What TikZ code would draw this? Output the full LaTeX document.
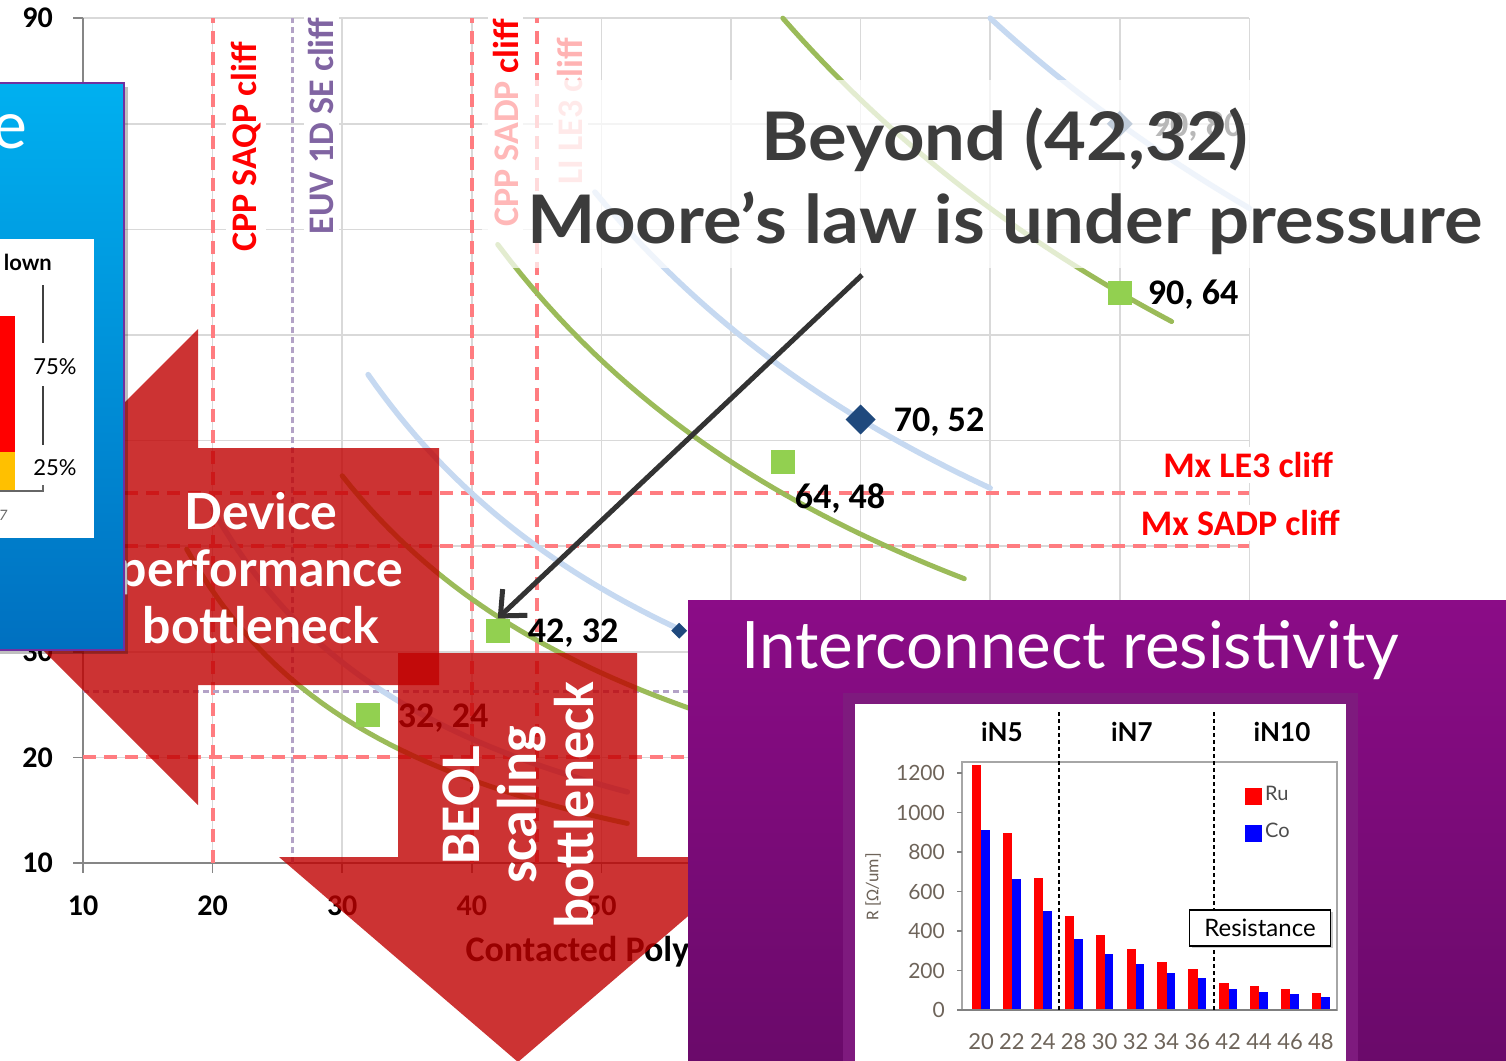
\documentclass[tikz,border=0pt]{standalone}
\usepackage{fontspec}
\setmainfont{Carlito}
\newfontfamily\gill{Lato}
\usetikzlibrary{arrows.meta,positioning,shapes.geometric,shadows}
\definecolor{gridgray}{RGB}{217,217,217}
\definecolor{axisgray}{RGB}{134,134,134}
\definecolor{cliffred}{RGB}{255,124,128}
\definecolor{cliffpurple}{RGB}{179,162,199}
\definecolor{txtpurple}{RGB}{128,100,162}
\definecolor{palered}{RGB}{255,179,179}
\definecolor{isogreen}{RGB}{155,187,89}
\definecolor{isoblue}{RGB}{198,217,241}
\definecolor{ptgreen}{RGB}{146,208,80}
\definecolor{ptnavy}{RGB}{31,73,125}
\definecolor{arrowred}{RGB}{192,0,0}
\definecolor{titlegray}{RGB}{60,60,60}
\definecolor{arrowgray}{RGB}{51,51,51}
\definecolor{boxtop}{RGB}{0,176,240}
\definecolor{boxbot}{RGB}{0,112,192}
\definecolor{boxline}{RGB}{112,48,160}
\definecolor{purptop}{RGB}{139,12,135}
\definecolor{purpbot}{RGB}{106,10,106}
\definecolor{framepurple}{RGB}{126,26,126}
\definecolor{ticktxt}{RGB}{110,100,90}
\definecolor{barred}{RGB}{255,0,0}
\definecolor{barblue}{RGB}{0,0,255}
\definecolor{barorange}{RGB}{255,192,0}
\tikzset{
	gridline/.style={draw=gridgray, line width=1.5pt},
	axisline/.style={draw=axisgray, line width=1.5pt},
	reddash/.style={draw=cliffred, line width=4pt, dash pattern=on 13pt off 8pt},
	purpdash/.style={draw=cliffpurple, line width=3pt, dash pattern=on 6pt off 4pt},
	greenline/.style={draw=isogreen, line width=5pt, line cap=round},
	blueline/.style={draw=isoblue, line width=5.5pt, line cap=round},
	greensq/.style={shape=rectangle, fill=ptgreen, minimum size=24pt, inner sep=0pt},
	navydia/.style={shape=diamond, fill=ptnavy, minimum size=#1, inner sep=0pt, aspect=1},
	ptlabel/.style={font=\bfseries\fontsize{36}{36}\selectfont, inner sep=0pt},
	axlabel/.style={font=\bfseries\fontsize{30}{30}\selectfont, inner sep=0pt},
	cliffup/.style={rotate=90, fill=white, inner sep=5pt, font=\bfseries\fontsize{36}{36}\selectfont},
	cliffside/.style={fill=white, inner xsep=10pt, inner ysep=5pt, text=red, font=\bfseries\fontsize{36}{36}\selectfont},
	titletxt/.style={text=titlegray, inner sep=0pt, font=\gill\bfseries\fontsize{67}{67}\selectfont},
	arrowtxt/.style={text=white, align=center, inner sep=0pt},
	rtick/.style={text=ticktxt, inner sep=0pt, font=\gill\fontsize{21}{21}\selectfont},
	gen/.style={inner sep=0pt, font=\gill\bfseries\fontsize{26}{26}\selectfont},
	sepdash/.style={draw=black, line width=1.3pt, dash pattern=on 4pt off 3pt},
	mooreline/.style={draw=arrowgray, line width=5pt, -{Straight Barb[length=20pt,width=36pt]}}
}
\begin{document}
\begin{tikzpicture}[x=1pt,y=-1pt]
	\useasboundingbox (0,0) rectangle (1506,1060);
	\clip (0,0) rectangle (1506,1060);
	\fill[white] (0,0) rectangle (1506,1060);

	\begin{scope}[shift={(-46.6,968.6)},x=12.96pt,y=10.56pt]
		\foreach \gx in {20,30,...,100}
			\draw[gridline] (\gx,10) -- (\gx,90);
		\foreach \gy in {20,30,...,90}
			\draw[gridline] (10,\gy) -- (100,\gy);
		\draw[axisline] (10,90) -- (10,10) -- (58,10);
		\foreach \t in {10,20,...,90}
			\draw[axisline] (10,\t) -- (9.23,\t);
		\foreach \t in {10,20,...,50}
			\draw[axisline] (\t,10) -- (\t,9.05);

		\node (y90)[axlabel] at (6.5,90) {90};
		\node (y30)[axlabel] at (6.5,30) {30};
		\node (y20)[axlabel] at (6.5,20) {20};
		\node (y10)[axlabel] at (6.5,10) {10};
		\foreach \t in {10,20,...,50}
			\node (x\t)[axlabel] at (\t,5.93) {\t};
		\node (xt)[axlabel, anchor=west, font=\bfseries\fontsize{36}{36}\selectfont] at (39.5,1.57) {Contacted Poly};

		\draw[reddash] (20,10) -- (20,90);
		\draw[purpdash] (26.2,10) -- (26.2,90);
		\draw[reddash] (40,10) -- (40,90);
		\draw[reddash] (45,10) -- (45,90);
		\draw[reddash] (10,45) -- (100,45);
		\draw[reddash] (10,40) -- (100,40);
		\draw[purpdash] (10,26.2) -- (58,26.2);
		\draw[reddash] (10,20) -- (58,20);

		\draw[blueline] plot[domain=80:100, samples=30] (\x,{7200/\x});
		\draw[blueline] plot[domain=49.5:80, samples=40] (\x,{3640/\x});
		\draw[blueline] plot[domain=32:56, samples=40] (\x,{1800/\x});
		\draw[blueline] plot[domain=20:52, samples=40] (\x,{870/\x});
		\draw[greenline] plot[domain=64:94, samples=40] (\x,{5760/\x});
		\draw[greenline] plot[domain=42:78, samples=40] (\x,{2880/\x});
		\draw[greenline] plot[domain=30:58, samples=40] (\x,{1400/\x});
		\draw[greenline] plot[domain=18:52, samples=40] (\x,{715/\x});

		\node (p9080)[navydia=26pt] at (90,80) {};
		\node (p7052)[navydia=30pt] at (70,52) {};
		\node (p5632)[navydia=16pt] at (56,32) {};
		\node (p9064)[greensq] at (90,64) {};
		\node (p6448)[greensq] at (64,48) {};
		\node (p4232)[greensq] at (42,32) {};
		\node (p3224)[greensq] at (32,24) {};

		\node (l9080)[ptlabel] at (95.96,79.7) {90, 80};
		\node (l9064)[ptlabel] at (95.65,63.8) {90, 64};
		\node (l7052)[ptlabel] at (76.05,51.76) {70, 52};
		\node (l6448)[ptlabel] at (68.41,44.56) {64, 48};
		\node (l4232)[ptlabel] at (47.81,31.78) {42, 32};
		\node (l3224)[ptlabel] at (37.78,23.73) {32, 24};

		\node (c1)[cliffup, text=red] at (22.6,77.8) {CPP SAQP cliff};
		\node (c2)[cliffup, text=txtpurple] at (28.4,79.8) {EUV 1D SE cliff};
		\node (c3)[cliffup, text=red] at (42.6,80.1) {CPP SADP cliff};
		\node (c4)[cliffup, text=palered] at (47.6,81.2) {LI LE3 cliff};
		\node (c5)[cliffside] at (99.9,47.7) {Mx LE3 cliff};
		\node (c6)[cliffside] at (99.3,42.2) {Mx SADP cliff};
	\end{scope}

	\fill[white, opacity=0.72] (482,80) rectangle (1252,268);
	\node (t1)[titletxt, anchor=base] at (1005,160) {\scalebox{1.08}[1]{Beyond (42,32)}};
	\node (t2)[titletxt, anchor=base] at (1005,243) {\scalebox{1.08}[1]{Moore’s law is under pressure}};

	\fill[arrowred, opacity=0.8] (439,448) -- (198,448) -- (198,329) -- (-40,567) -- (198,805) -- (198,685) -- (439,685) -- cycle;
	\fill[arrowred, opacity=0.8] (398,653) -- (637,653) -- (637,857) -- (757,857) -- (518,1062) -- (279,857) -- (398,857) -- cycle;
	\node (d1)[arrowtxt, font=\gill\bfseries\fontsize{50}{57}\selectfont] at (261,568) {Device\\performance\\bottleneck};
	\node (b1)[arrowtxt, rotate=90, font=\bfseries\fontsize{56}{57}\selectfont] at (518,805) {BEOL\\scaling\\bottleneck};

	\fill[black, opacity=0.25] (-5,87) rectangle (128,654);
	\shade[top color=boxtop, bottom color=boxbot] (-5,83) rectangle (124,650);
	\draw[draw=boxline, line width=1.5pt] (-5,83) rectangle (124,650);
	\node (e1)[anchor=base east, text=white, inner sep=0pt, font=\gill\fontsize{66}{66}\selectfont] at (28,148) {e};
	\fill[white] (-5,239) rectangle (94,538);
	\node (d2)[anchor=base east, inner sep=0pt, font=\gill\bfseries\fontsize{22}{22}\selectfont] at (52,270) {lown};
	\fill[barred] (-5,316) rectangle (15,452);
	\fill[barorange] (-5,452) rectangle (15,491);
	\draw[draw=black!75, line width=1.5pt] (43,285) -- (43,343) (43,386) -- (43,445);
	\draw[draw=black!60, line width=1.5pt] (-5,491) -- (43,491) -- (43,485);
	\node (q75)[inner sep=0pt, font=\gill\fontsize{22}{22}\selectfont] at (55,367) {75\%};
	\node (q25)[inner sep=0pt, font=\gill\fontsize{22}{22}\selectfont] at (55,468) {25\%};
	\node (q7)[inner sep=0pt, text=black!60, font=\itshape\fontsize{16}{16}\selectfont] at (3,515) {7};

	\shade[top color=purptop, bottom color=purpbot] (688,600) rectangle (1510,1065);
	\node (ir)[anchor=base west, text=white, inner sep=0pt, font=\gill\fontsize{65.5}{66}\selectfont] at (741,668) {Interconnect resistivity};
	\fill[framepurple] (843,693) rectangle (1358,1065);
	\fill[white] (855,704) rectangle (1346,1065);

	\begin{scope}[shift={(0,1010)},y=0.1975pt]
		\foreach \ru/\co [count=\i from 0] in {1240/914,897/664,669/502,475/361,378/283,307/231,243/189,206/160,135/105,121/89,105/81,88/66} {
			\fill[barred] ({972+30.9*\i},0) rectangle ++(9.3,\ru);
			\fill[barblue] ({981.3+30.9*\i},0) rectangle ++(8.5,\co);
		}
	\end{scope}
	\draw[draw=black!35, line width=1.5pt] (962,762) rectangle (1337,1010);
	\draw[draw=black!50, line width=1.5pt] (957,1010) -- (1337,1010);
	\foreach \v in {0,200,...,1200} {
		\draw[draw=black!50, line width=1.2pt] (957,{1010-0.1975*\v}) -- (962,{1010-0.1975*\v});
		\node (r\v)[rtick, anchor=east] at (945,{1010-0.1975*\v}) {\v};
	}
	\foreach \c [count=\i from 0] in {20,22,24,28,30,32,34,36,42,44,46,48}
		\node (k\i)[rtick, font=\gill\fontsize{22}{22}\selectfont] at ({981+30.9*\i},1042) {\c};
	\node (rl)[rotate=90, text=ticktxt, inner sep=0pt, font=\fontsize{18}{18}\selectfont] at (873,887) {R [Ω/um]};
	\draw[sepdash] (1059,712) -- (1059,1010);
	\draw[sepdash] (1214,712) -- (1214,1010);
	\node (g5)[gen] at (1002,732) {iN5};
	\node (g7)[gen] at (1132,732) {iN7};
	\node (g10)[gen] at (1282,732) {iN10};
	\fill[barred] (1245,788) rectangle (1262,805);
	\fill[barblue] (1245,825) rectangle (1262,842);
	\node (ru)[anchor=west, inner sep=0pt, text=black!70, font=\gill\fontsize{20}{20}\selectfont] at (1265,793) {Ru};
	\node (co)[anchor=west, inner sep=0pt, text=black!70, font=\gill\fontsize{20}{20}\selectfont] at (1265,830) {Co};
	\node (res)[draw=black, line width=1.5pt, fill=white, drop shadow={opacity=0.4}, minimum width=141pt, minimum height=36pt, font=\gill\fontsize{24}{24}\selectfont] at (1260,928) {Resistance};

	\coordinate (a0) at (862,275);
	\draw[mooreline] (a0) -- (p4232.north);
\end{tikzpicture}
\end{document}
